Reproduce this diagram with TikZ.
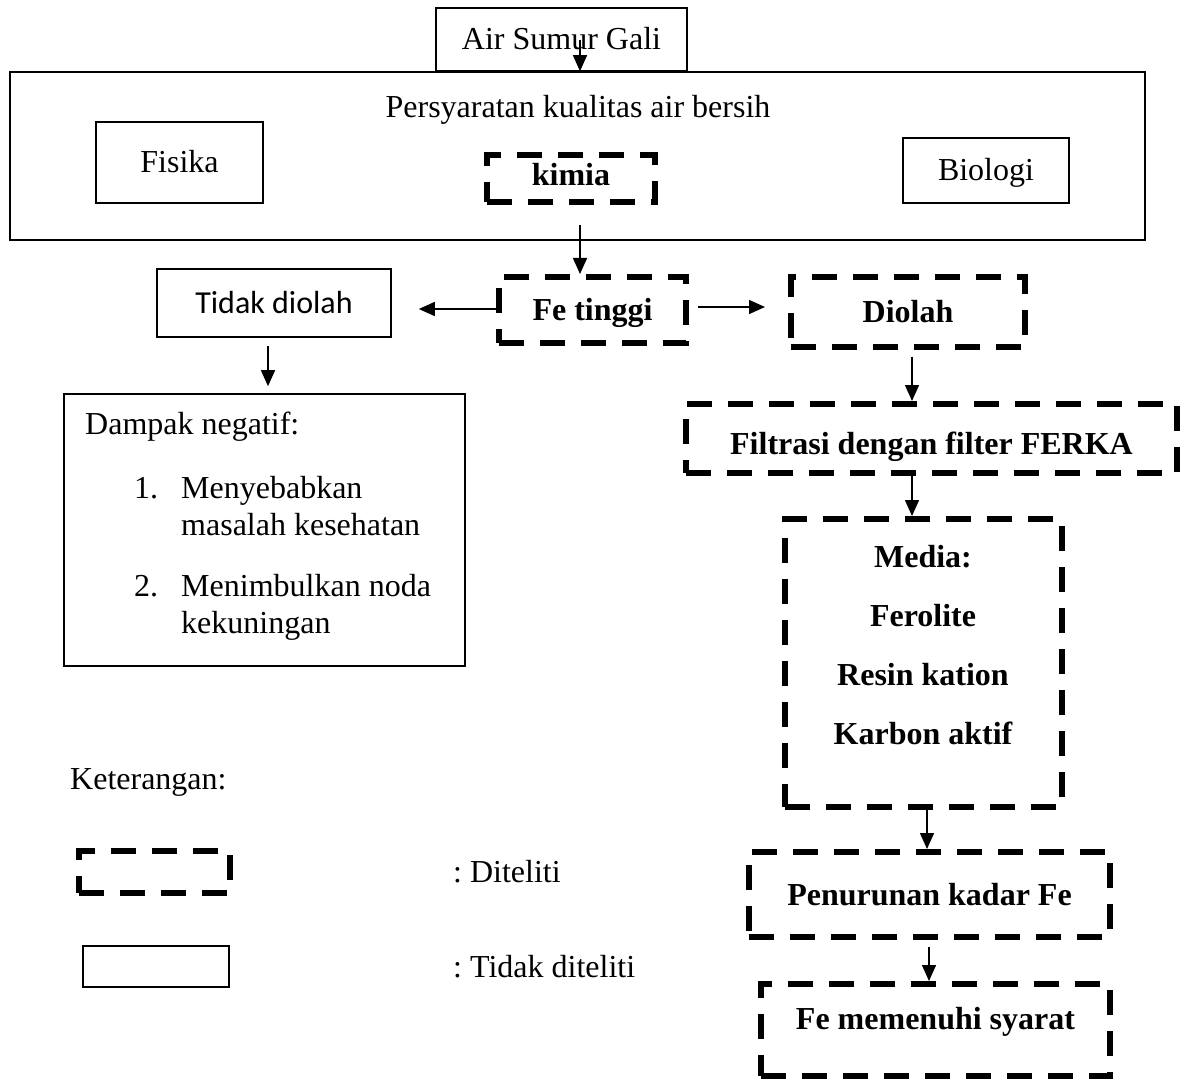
\documentclass[tikz,border=0pt]{standalone}
\usepackage{fontspec}
\setmainfont{Liberation Serif}
\newfontfamily\calibrifont{Carlito}
\usetikzlibrary{arrows.meta,calc}
\newcommand\dfont{\fontsize{32}{38}\selectfont\frenchspacing}
\newcommand\dbfont{\fontsize{32}{38}\selectfont\bfseries}
\begin{document}
\begin{tikzpicture}[x=1pt,y=-1pt,
  solidbox/.style={draw, line width=1.6pt, inner sep=0pt, font=\dfont, text height=25pt, text depth=4pt},
  dashbox/.style={draw, line width=6pt, dash pattern=on 25pt off 16pt, inner sep=0pt, font=\dbfont, text height=25pt, text depth=4pt},
  txt/.style={inner sep=0pt, font=\dfont},
  arr/.style={line width=1.5pt, -{Triangle[length=16pt,width=14pt]}}]
\useasboundingbox (0,0) rectangle (1189,1083);
% top
\node[solidbox, minimum width=251pt, minimum height=63pt] (air) at (561.5,39.5) {Air Sumur Gali};
\node[solidbox, minimum width=1135pt, minimum height=168pt] (big) at (577.5,156) {};
\node[txt, anchor=base] (title) at (578,118) {Persyaratan kualitas air bersih};
\node[solidbox, minimum width=167pt, minimum height=81pt] (fisika) at (179.5,162.5) {Fisika};
\node[dashbox, minimum width=168pt, minimum height=47pt, text depth=10pt] (kimia) at (571,178.5) {kimia};
\node[solidbox, minimum width=166pt, minimum height=65pt] (biologi) at (986,170.5) {Biologi};
% middle row
\node[solidbox, font=\fontsize{32}{38}\calibrifont, minimum width=234pt, minimum height=68pt] (tidak) at (274,303) {Tidak diolah};
\node[dashbox, minimum width=187pt, minimum height=66pt] (fe) at (592.5,310) {Fe tinggi};
\node[dashbox, minimum width=234pt, minimum height=70pt] (diolah) at (908,312) {Diolah};
% left branch
\node[solidbox, minimum width=401pt, minimum height=272pt] (dampak) at (264.5,530) {};
\node[txt, anchor=base west] (dn) at (85,434) {Dampak negatif:};
\node[txt, anchor=base west] (n1) at (134,498) {1.};
\node[txt, anchor=base west] (i1a) at (181,498) {Menyebabkan};
\node[txt, anchor=base west] (i1b) at (181,535) {masalah kesehatan};
\node[txt, anchor=base west] (n2) at (134,596) {2.};
\node[txt, anchor=base west] (i2a) at (181,596) {Menimbulkan noda};
\node[txt, anchor=base west] (i2b) at (181,633) {kekuningan};
% right branch
\node[dashbox, minimum width=491pt, minimum height=69pt, text height=36pt, text depth=4pt] (filtrasi) at (931.5,438.5) {Filtrasi dengan filter FERKA};
\node[dashbox, minimum width=277pt, minimum height=288pt] (media) at (923.5,663) {};
\node[inner sep=0pt, font=\fontsize{32}{59}\selectfont\bfseries, align=center] (medialist) at (923,645) {Media:\\Ferolite\\Resin kation\\Karbon aktif};
\node[dashbox, minimum width=361pt, minimum height=85pt] (penurunan) at (929.5,894.5) {Penurunan kadar Fe};
\node[dashbox, minimum width=349pt, minimum height=92pt, text depth=27pt] (syarat) at (935.5,1030) {Fe memenuhi syarat};
% legend
\node[txt, anchor=base west] (ket) at (70,789) {Keterangan:};
\node[dashbox, minimum width=151pt, minimum height=42pt] (legd) at (154.5,872) {};
\node[txt, anchor=base west] (legdt) at (453,882) {: Diteliti};
\node[solidbox, minimum width=146pt, minimum height=41pt] (legs) at (156,966.5) {};
\node[txt, anchor=base west] (legst) at (453,977) {: Tidak diteliti};
% connectors
\coordinate (a1) at (580,40);
\draw[arr] (a1) -- (a1 |- big.north);
\coordinate (a2) at (580,225);
\draw[arr] (a2) -- (a2 |- fe.north);
\draw[arr, shorten >=27pt] ([yshift=1pt]fe.west) -- ([yshift=1pt]fe.west -| tidak.east);
\draw[arr, shorten <=9pt, shorten >=23pt] ([yshift=3pt]fe.east) -- ([yshift=3pt]fe.east -| diolah.west);
\coordinate (a3) at (268,346);
\draw[arr, shorten >=7pt] (a3) -- (a3 |- dampak.north);
\coordinate (a4) at (912,357);
\draw[arr] (a4) -- (a4 |- filtrasi.north);
\coordinate (a5) at (912,476);
\draw[arr] (a5) -- (a5 |- media.north);
\coordinate (a6) at (927,809);
\draw[arr] (a6) -- (a6 |- penurunan.north);
\coordinate (a7) at (929,947);
\draw[arr] (a7) -- (a7 |- syarat.north);
\end{tikzpicture}
\end{document}
